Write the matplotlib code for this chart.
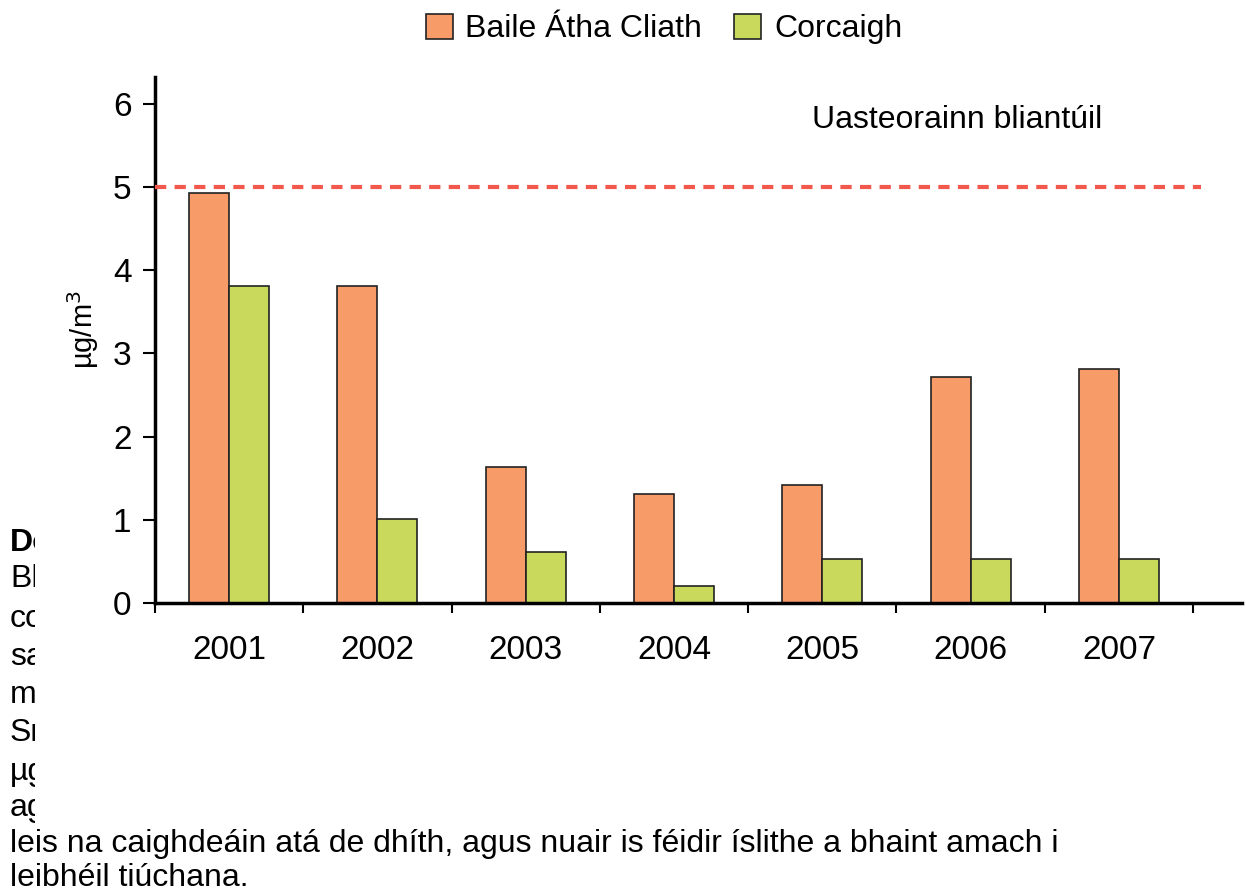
import matplotlib.pyplot as plt
import matplotlib.patches as mpatches
import numpy as np

plt.rcParams['font.family'] = ['Liberation Sans', 'DejaVu Sans']

years = ['2001', '2002', '2003', '2004', '2005', '2006', '2007']
baile_atha_cliath = [4.93, 3.81, 1.63, 1.31, 1.42, 2.71, 2.81]
corcaigh = [3.81, 1.01, 0.61, 0.21, 0.53, 0.53, 0.53]
limit_value = 5
series_names = ['Baile Átha Cliath', 'Corcaigh']
side_fragments = ['Do', 'Bh', 'co', 'sa', 'm', 'Sr', 'µg', 'ag']
bottom_lines = ['leis na caighdeáin atá de dhíth, agus nuair is féidir íslithe a bhaint amach i',
                'leibhéil tiúchana.']

W, H = 1246, 894
fig = plt.figure(figsize=(W / 100, H / 100), dpi=100)

# leftover document text behind the chart
clip = mpatches.Rectangle((0, 0), 35 / W, 1, transform=fig.transFigure,
                          facecolor='none', edgecolor='none')
fig.add_artist(clip)
frag_y = [543, 579, 619, 657, 695, 733, 772, 808]
for i, (s, yy) in enumerate(zip(side_fragments, frag_y)):
    t = fig.text(10 / W, 1 - yy / H, s, fontsize=23, va='center', ha='left',
                 fontweight='bold' if i == 0 else 'normal')
    t.set_clip_path(clip)
for s, yy in zip(bottom_lines, [844, 878]):
    fig.text(10 / W, 1 - yy / H, s, fontsize=23, va='center', ha='left')

ax = fig.add_axes([155 / W, 1 - 603 / H, 1087 / W, (603 - 77) / H])

x = np.arange(len(years)) + 0.5
bw = 0.27
ax.bar(x - bw / 2, baile_atha_cliath, bw, color='#F79B69', edgecolor='#222222',
       linewidth=1.2, label=series_names[0], zorder=2)
ax.bar(x + bw / 2, corcaigh, bw, color='#C9D95C', edgecolor='#222222',
       linewidth=1.2, label=series_names[1], zorder=2)

ax.plot([0, 7.05], [limit_value, limit_value], color='#F2584B', linewidth=3,
        dashes=(2.7, 2.0), zorder=3)
ax.text(4.43, 5.8, 'Uasteorainn bliantúil', fontsize=23, va='center', ha='left')

ax.set_xlim(0, 1087 / 148.3)
ax.set_ylim(0, 6.32)

for side in ['top', 'right']:
    ax.spines[side].set_visible(False)
ax.spines['left'].set_linewidth(2.5)
ax.spines['bottom'].set_linewidth(2.5)

ax.set_yticks(range(0, 7))
ax.tick_params(axis='y', length=9, width=1.5, pad=8, labelsize=24)
ax.set_xticks(range(0, 8))
ax.set_xticklabels([])
ax.set_xticks(x, minor=True)
ax.set_xticklabels(years, minor=True, fontsize=24)
ax.tick_params(axis='x', which='major', length=7, width=1.5)
ax.tick_params(axis='x', which='minor', length=0, pad=23)

ax.set_ylabel('µg/m$^3$', fontsize=21)
ax.yaxis.set_label_coords(-0.05, 0.52)

fig.legend(loc='center', bbox_to_anchor=(664 / W, 1 - 29 / H), ncol=2,
           frameon=False, fontsize=23, handlelength=0.85, handleheight=0.85,
           handletextpad=0.4, columnspacing=1.0)

fig.savefig('out.png', dpi=100)
